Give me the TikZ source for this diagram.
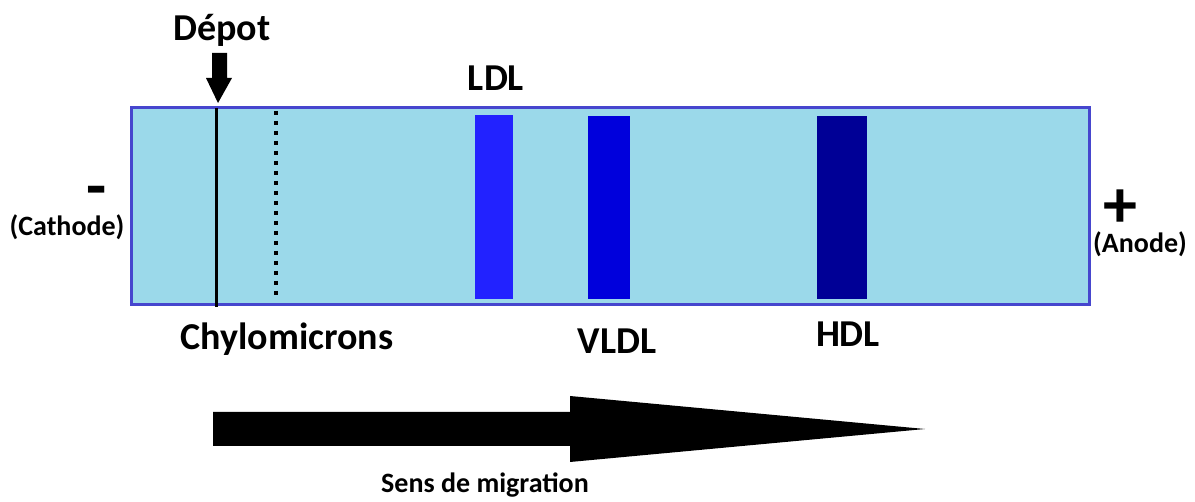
\documentclass[tikz,border=0pt]{standalone}
\usepackage{fontspec}
\setmainfont{Carlito}
\definecolor{gelfill}{HTML}{9BD9EA}
\definecolor{gelborder}{HTML}{4646CE}
\definecolor{ldlcol}{HTML}{2222FF}
\definecolor{vldlcol}{HTML}{0000DC}
\definecolor{hdlcol}{HTML}{000096}
\begin{document}
\begin{tikzpicture}[x=1pt,y=-1pt,
  lbl/.style={font=\fontsize{38}{42}\selectfont\bfseries, inner sep=0pt, anchor=base},
  small/.style={font=\fontsize{28}{32}\selectfont\bfseries, inner sep=0pt, anchor=base},
  sign/.style={inner sep=0pt, anchor=center}]
\useasboundingbox (0,0) rectangle (1195,502);
% gel
\draw[fill=gelfill, draw=gelborder, line width=3pt] (131,108) rectangle (1089,305);
% bands
\fill[ldlcol] (475,115) rectangle (513,299);
\fill[vldlcol] (588,116) rectangle (630,299);
\fill[hdlcol] (817,116) rectangle (867,299);
% deposit line and dotted line
\draw[line width=3pt] (216,108) -- (216,307);
\draw[line width=3.5pt, dash pattern=on 4pt off 6pt] (276,111) -- (276,297);
% depot arrow
\fill (212,53) -- (227,53) -- (227,78) -- (232,78) -- (218,103) -- (206,78) -- (212,78) -- cycle;
% labels
\node[lbl] (depot) at (222,41) {Dépot};
\node[lbl] (ldl) at (496,91) {LDL};
\node[lbl] (chylo) at (287,350) {Chylomicrons};
\node[lbl] (vldl) at (617,354) {VLDL};
\node[lbl] (hdl) at (848,347) {HDL};
\node[sign, font=\fontsize{66}{70}\selectfont\bfseries] (minus) at (97,197) {\raisebox{-20pt}{-}};
\node[small] (cathode) at (67,236) {(Cathode)};
\node[sign, font=\fontsize{68}{72}\selectfont\bfseries] (plus) at (1120,209) {\raisebox{-23pt}{+}};
\node[small] (anode) at (1140,253) {(Anode)};
% migration arrow
\fill (213,412) -- (570,412) -- (570,396) -- (925,429) -- (570,462) -- (570,446) -- (213,446) -- cycle;
\node[small] (sens) at (485,493) {Sens de migration};
\end{tikzpicture}
\end{document}
